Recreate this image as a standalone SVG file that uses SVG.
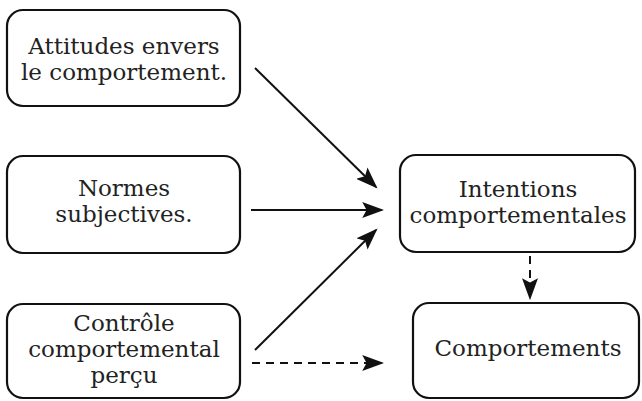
<svg xmlns="http://www.w3.org/2000/svg" width="642" height="401" viewBox="0 0 642 401">
<defs>
<style>
.box{fill:#fff;stroke:#111;stroke-width:2.2}
.t{font-family:"DejaVu Serif","Liberation Serif",serif;font-size:23px;fill:#222;text-anchor:middle}
.c{stroke:#111;stroke-width:2;fill:none}
.d{stroke-dasharray:8,6}
</style>
<marker id="ahb" viewBox="0 0 10 10" refX="9" refY="5" markerWidth="22" markerHeight="16" markerUnits="userSpaceOnUse" orient="auto" preserveAspectRatio="none">
<path d="M0,0 L10,5 L0,10 L2,5 Z" fill="#111"/>
</marker>
</defs>
<rect width="642" height="401" fill="#fff"/>
<g id="n1"><rect class="box" x="7" y="10" width="233" height="96" rx="16"/><text class="t" x="124" y="54">Attitudes envers</text><text class="t" x="124" y="80">le comportement.</text></g>
<g id="n2"><rect class="box" x="7" y="156" width="233" height="97" rx="16"/><text class="t" x="124" y="196">Normes</text><text class="t" x="124" y="222">subjectives.</text></g>
<g id="n3"><rect class="box" x="7" y="304" width="233" height="94" rx="16"/><text class="t" x="124" y="331">Contrôle</text><text class="t" x="124" y="357">comportemental</text><text class="t" x="124" y="383">perçu</text></g>
<g id="n4"><rect class="box" x="400" y="155" width="235" height="97" rx="16"/><text class="t" x="518" y="197">Intentions</text><text class="t" x="518" y="223">comportementales</text></g>
<g id="n5"><rect class="box" x="413" y="303" width="226" height="95" rx="16"/><text class="t" x="528" y="356">Comportements</text></g>
<g id="connectors">
<line class="c" x1="255" y1="68" x2="376" y2="187" marker-end="url(#ahb)"/>
<line class="c" x1="251" y1="210" x2="382" y2="210" marker-end="url(#ahb)"/>
<line class="c" x1="255" y1="350" x2="376" y2="230" marker-end="url(#ahb)"/>
<line class="c d" x1="252" y1="363" x2="382" y2="363" marker-end="url(#ahb)"/>
<line class="c d" x1="530" y1="256" x2="530" y2="298" marker-end="url(#ahb)"/>
</g>
</svg>
